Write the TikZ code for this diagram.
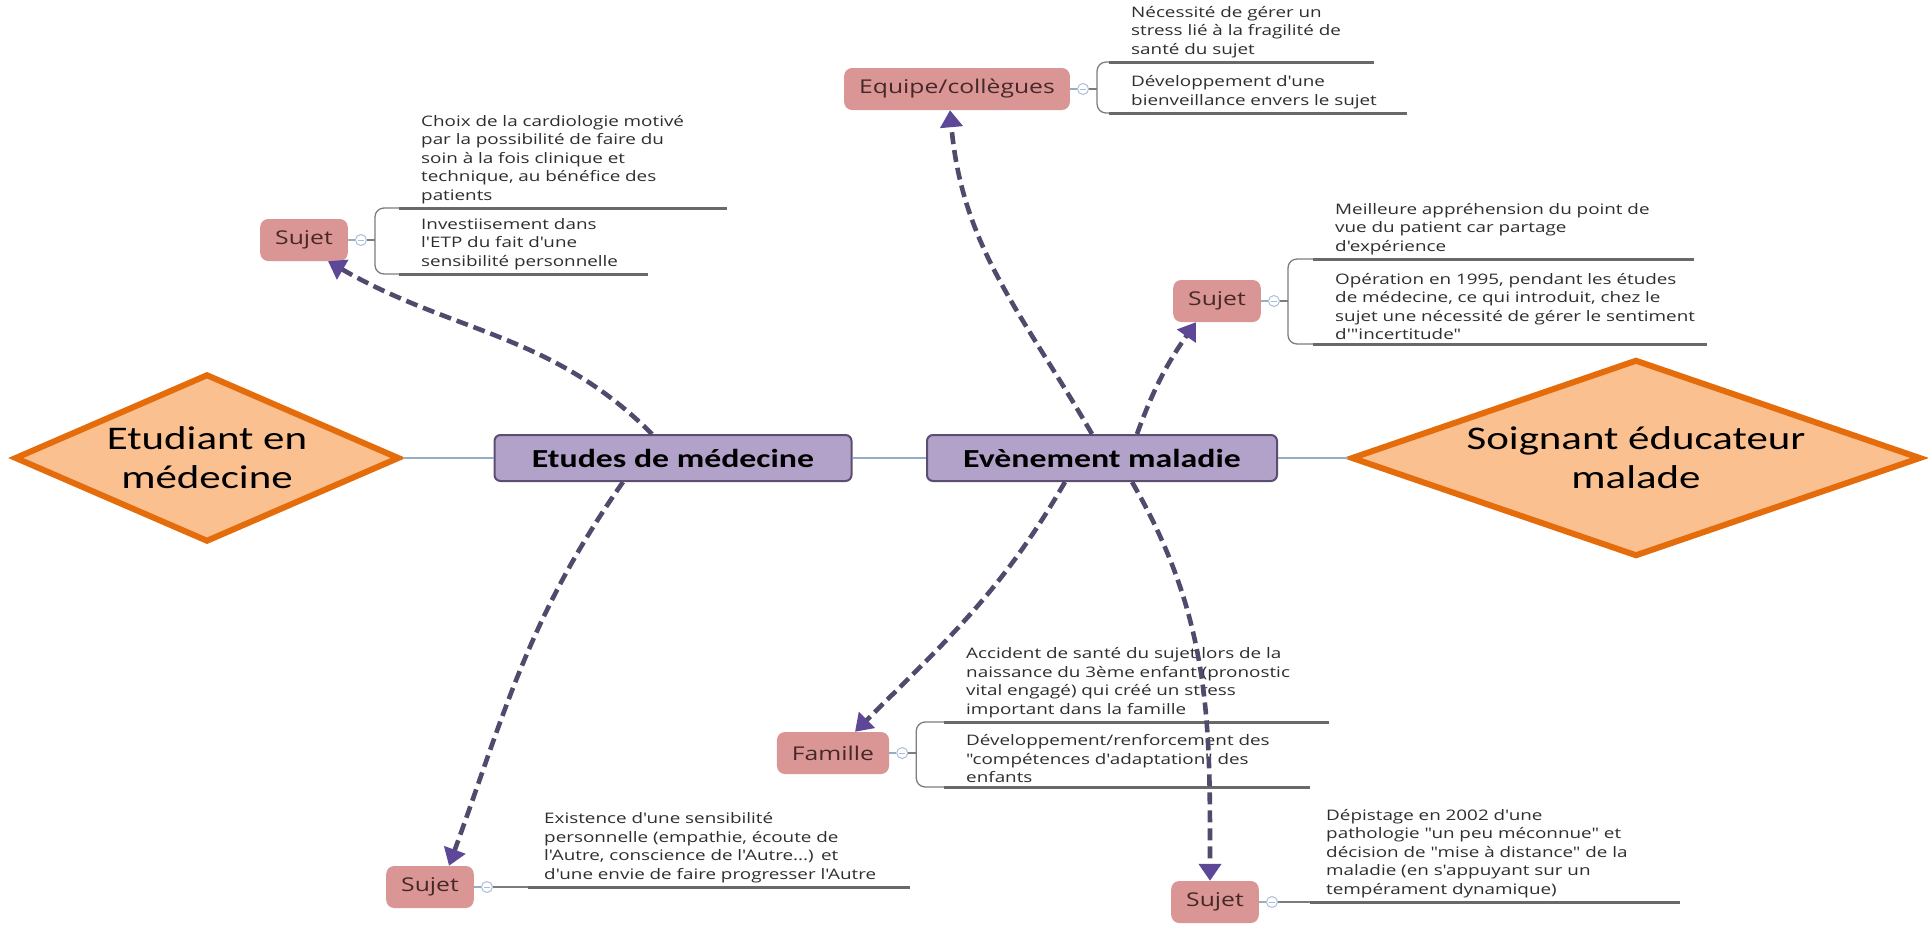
\documentclass[tikz,border=0pt]{standalone}
\usepackage{fontspec}
\newfontfamily\notefont{Open Sans}[FakeStretch=1.3]
\newfontfamily\hubfont{Carlito}[FakeStretch=1.3]
\usetikzlibrary{shapes.geometric,arrows.meta}

\definecolor{roleFill}{RGB}{250,192,143}
\definecolor{roleLine}{RGB}{228,108,10}
\definecolor{hubFill}{RGB}{178,162,201}
\definecolor{hubLine}{RGB}{92,78,112}
\definecolor{topicFill}{RGB}{217,150,148}
\definecolor{topicText}{RGB}{70,40,40}
\definecolor{linkCol}{RGB}{82,74,108}
\definecolor{headCol}{RGB}{92,72,150}
\definecolor{spineCol}{RGB}{150,174,196}
\definecolor{foldCol}{RGB}{170,190,215}
\definecolor{braceCol}{RGB}{125,125,125}
\definecolor{ulineCol}{RGB}{105,105,105}

\tikzset{
  role/.style={diamond, draw=roleLine, fill=roleFill, line width=6pt, inner sep=0pt,
    align=center, font=\hubfont\fontsize{33}{39}\selectfont},
  hub/.style={rectangle, rounded corners=6pt, draw=hubLine, fill=hubFill, line width=2pt,
    minimum height=46pt, align=center, font=\hubfont\bfseries\fontsize{26}{30}\selectfont},
  topic/.style={rectangle, rounded corners=8pt, fill=topicFill, minimum height=42pt,
    inner xsep=15pt, text=topicText, font=\notefont\fontsize{19}{22}\selectfont},
  fold/.style={circle, draw=foldCol, fill=white, line width=1pt, minimum size=11pt, inner sep=0pt,
    path picture={\draw[foldCol, line width=1pt] ([xshift=-3pt]path picture bounding box.center)
      -- ([xshift=3pt]path picture bounding box.center);}},
  note/.style={anchor=south west, align=left, inner xsep=0pt, inner ysep=4pt,
    text=black!82, font=\notefont\fontsize{14.5}{18.5}\selectfont},
  link/.style={draw=linkCol, line width=4.6pt, dash pattern=on 12pt off 6pt,
    -{Triangle[length=17pt,width=22pt,color=headCol]}},
  spine/.style={draw=spineCol, line width=1.2pt},
  brace/.style={draw=braceCol, line width=1.3pt},
  uline/.style={draw=ulineCol, line width=3pt},
}

\begin{document}
\begin{tikzpicture}[x=1pt,y=-1pt]
  \useasboundingbox (0,0) rectangle (1928,924);

  % main line
  \node[role, minimum width=385pt, minimum height=168pt, aspect=2.3] (stud) at (207,458) {Etudiant en\\médecine};
  \node[hub, minimum width=357pt] (etu) at (673,458) {Etudes de médecine};
  \node[hub, minimum width=350pt] (eve) at (1102,458) {Evènement maladie};
  \node[role, minimum width=570pt, minimum height=197pt, aspect=2.9] (care) at (1636,458) {Soignant éducateur\\malade};
  \draw[spine] (stud) -- (etu);
  \draw[spine] (etu) -- (eve);
  \draw[spine] (eve) -- (care);

  % branches
  \node[topic] (equ) at (957,89) {Equipe/collègues};
  \node[topic] (suj1) at (304,240) {Sujet};
  \node[topic] (suj2) at (1217,301) {Sujet};
  \node[topic] (fam) at (833,753) {Famille};
  \node[topic] (suj3) at (430,887) {Sujet};
  \node[topic] (suj4) at (1215,902) {Sujet};

  \node[fold] (equf) at ([xshift=13pt]equ.east) {};
  \node[fold] (suj1f) at ([xshift=13pt]suj1.east) {};
  \node[fold] (suj2f) at ([xshift=13pt]suj2.east) {};
  \node[fold] (famf) at ([xshift=13pt]fam.east) {};
  \node[fold] (suj3f) at ([xshift=13pt]suj3.east) {};
  \node[fold] (suj4f) at ([xshift=13pt]suj4.east) {};
  \draw[spine] (equ) -- (equf);
  \draw[spine] (suj1) -- (suj1f);
  \draw[spine] (suj2) -- (suj2f);
  \draw[spine] (fam) -- (famf);
  \draw[spine] (suj3) -- (suj3f);
  \draw[spine] (suj4) -- (suj4f);

  % notes
  \node[note, text width=243pt] (eqa) at (1131,62) {Nécessité de gérer un\\stress lié à la fragilité de\\santé du sujet};
  \node[note, text width=276pt] (eqb) at (1131,113) {Développement d'une\\bienveillance envers le sujet};
  \node[note, text width=306pt] (s1a) at (421,208) {Choix de la cardiologie motivé\\par la possibilité de faire du\\soin à la fois clinique et\\technique, au bénéfice des\\patients};
  \node[note, text width=227pt] (s1b) at (421,274) {Investiisement dans\\l'ETP du fait d'une\\sensibilité personnelle};
  \node[note, text width=359pt] (s2a) at (1335,259) {Meilleure appréhension du point de\\vue du patient car partage\\d'expérience};
  \node[note, text width=372pt] (s2b) at (1335,344) {Opération en 1995, pendant les études\\de médecine, ce qui introduit, chez le\\sujet une nécessité de gérer le sentiment\\d'"incertitude"};
  \node[note, text width=363pt] (fa) at (966,722) {Accident de santé du sujet lors de la\\naissance du 3ème enfant (pronostic\\vital engagé) qui créé un stress\\important dans la famille};
  \node[note, text width=344pt] (fb) at (966,787) {Développement/renforcement des\\"compétences d'adaptation" des\\enfants};
  \node[note, text width=366pt] (s3a) at (544,887) {Existence d'une sensibilité\\personnelle (empathie, écoute de\\l'Autre, conscience de l'Autre...) et\\d'une envie de faire progresser l'Autre};
  \node[note, text width=354pt] (s4a) at (1326,902) {Dépistage en 2002 d'une\\pathologie "un peu méconnue" et\\décision de "mise à distance" de la\\maladie (en s'appuyant sur un\\tempérament dynamique)};

  % brackets and underlines
  \draw[brace] (equf.east) -- ++(8,0) coordinate (equk);
  \draw[brace, rounded corners=9pt] ([xshift=-22pt]eqa.south west) -| (equk) |- ([xshift=-22pt]eqb.south west);
  \draw[uline] ([xshift=-22pt]eqa.south west) -- (eqa.south east);
  \draw[uline] ([xshift=-22pt]eqb.south west) -- (eqb.south east);

  \draw[brace] (suj1f.east) -- ++(8,0) coordinate (suj1k);
  \draw[brace, rounded corners=9pt] ([xshift=-22pt]s1a.south west) -| (suj1k) |- ([xshift=-22pt]s1b.south west);
  \draw[uline] ([xshift=-22pt]s1a.south west) -- (s1a.south east);
  \draw[uline] ([xshift=-22pt]s1b.south west) -- (s1b.south east);

  \draw[brace] (suj2f.east) -- ++(8,0) coordinate (suj2k);
  \draw[brace, rounded corners=9pt] ([xshift=-22pt]s2a.south west) -| (suj2k) |- ([xshift=-22pt]s2b.south west);
  \draw[uline] ([xshift=-22pt]s2a.south west) -- (s2a.south east);
  \draw[uline] ([xshift=-22pt]s2b.south west) -- (s2b.south east);

  \draw[brace] (famf.east) -- ++(8,0) coordinate (famk);
  \draw[brace, rounded corners=9pt] ([xshift=-22pt]fa.south west) -| (famk) |- ([xshift=-22pt]fb.south west);
  \draw[uline] ([xshift=-22pt]fa.south west) -- (fa.south east);
  \draw[uline] ([xshift=-22pt]fb.south west) -- (fb.south east);

  \draw[brace] (suj3f.east) -- ([xshift=-16pt]s3a.south west);
  \draw[uline] ([xshift=-16pt]s3a.south west) -- (s3a.south east);
  \draw[brace] (suj4f.east) -- ([xshift=-16pt]s4a.south west);
  \draw[uline] ([xshift=-16pt]s4a.south west) -- (s4a.south east);

  % dashed links
  \draw[link] ([xshift=-21pt]etu.north) to[out=135,in=-30] ([xshift=24pt]suj1.south);
  \draw[link] ([xshift=-50pt]etu.south) to[out=-125,in=70] ([xshift=19pt]suj3.north);
  \draw[link] ([xshift=-10pt]eve.north) to[out=120,in=-85] ([xshift=-7pt]equ.south);
  \draw[link] ([xshift=35pt]eve.north) to[out=70,in=-125] ([xshift=-21pt]suj2.south);
  \draw[link] ([xshift=-37pt]eve.south) to[out=-120,in=45] ([xshift=22pt]fam.north);
  \draw[link] ([xshift=30pt]eve.south) to[out=-60,in=90] ([xshift=-5pt]suj4.north);
\end{tikzpicture}
\end{document}
